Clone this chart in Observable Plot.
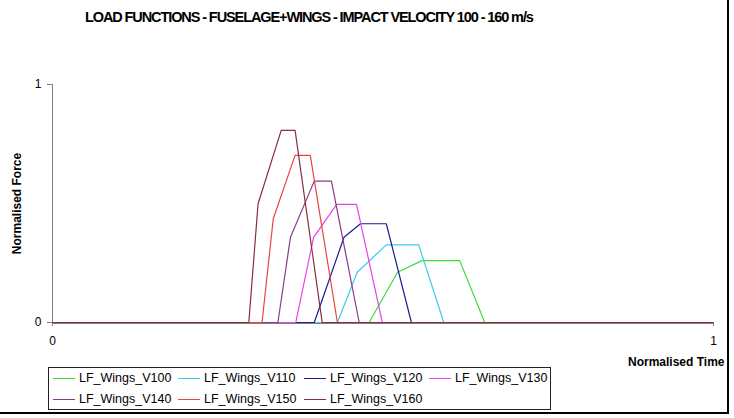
<!DOCTYPE html>
<html>
<head>
<meta charset="utf-8">
<script src="https://cdn.jsdelivr.net/npm/d3@7"></script>
<script src="https://cdn.jsdelivr.net/npm/@observablehq/plot@0.6"></script>
<style>
  body { margin: 0; background: #fff; }
  #chart { position: relative; width: 734px; height: 418px; overflow: hidden; font-family: "Liberation Sans", Arial, sans-serif; }
  #chart svg { position: absolute; left: 0; top: 0; }
  .title { position: absolute; left: 85px; top: 9px; font-weight: bold; font-size: 14.5px; letter-spacing: -1.1px; white-space: nowrap; color: #000; }
  .frame { position: absolute; left: 0; top: -4px; width: 727px; height: 416px; border-right: 2px solid #000; border-bottom: 2px solid #000; pointer-events: none; }
  .legend { position: absolute; left: 48px; top: 367px; width: 503px; height: 43px; border: 1px solid #222; box-sizing: border-box; font-size: 12.5px; }
  .legend .item { position: absolute; display: flex; align-items: center; white-space: nowrap; }
  .legend .swatch { width: 22px; height: 0; border-top: 1.5px solid; margin-right: 4px; }
</style>
</head>
<body>
<div id="chart"></div>
<script>
// Load functions, fuselage + wings, one series per impact velocity
const seriesNames = ["LF_Wings_V100", "LF_Wings_V110", "LF_Wings_V120", "LF_Wings_V130",
                     "LF_Wings_V140", "LF_Wings_V150", "LF_Wings_V160"];
const seriesColors = ["#3ddc3d", "#3ccbee", "#1c1c96", "#e843e8", "#8c3a8c", "#e84444", "#8a2d3d"];

const timeV100 = [0, 0.479, 0.522, 0.559, 0.616, 0.654, 1];
const forceV100 = [0, 0, 0.211, 0.260, 0.260, 0, 0];
const timeV110 = [0, 0.431, 0.461, 0.505, 0.554, 0.592, 1];
const forceV110 = [0, 0, 0.211, 0.326, 0.326, 0, 0];
const timeV120 = [0, 0.396, 0.441, 0.466, 0.505, 0.543, 1];
const forceV120 = [0, 0, 0.358, 0.415, 0.415, 0, 0];
const timeV130 = [0, 0.368, 0.395, 0.430, 0.460, 0.499, 1];
const forceV130 = [0, 0, 0.358, 0.496, 0.496, 0, 0];
const timeV140 = [0, 0.341, 0.360, 0.396, 0.422, 0.464, 1];
const forceV140 = [0, 0, 0.358, 0.594, 0.594, 0, 0];
const timeV150 = [0, 0.317, 0.334, 0.367, 0.390, 0.431, 1];
const forceV150 = [0, 0, 0.436, 0.702, 0.702, 0, 0];
const timeV160 = [0, 0.297, 0.311, 0.346, 0.367, 0.408, 1];
const forceV160 = [0, 0, 0.499, 0.807, 0.807, 0, 0];

const xTicks = [0, 1];
const yTicks = [0, 1];

const times = [timeV100, timeV110, timeV120, timeV130, timeV140, timeV150, timeV160];
const forces = [forceV100, forceV110, forceV120, forceV130, forceV140, forceV150, forceV160];

const rows = seriesNames.flatMap((name, i) =>
  times[i].map((t, j) => ({series: name, time: t, force: forces[i][j]}))
);

const plot = Plot.plot({
  width: 734,
  height: 418,
  marginLeft: 52,
  marginRight: 21,
  marginTop: 84,
  marginBottom: 96,
  style: {fontFamily: "'Liberation Sans', Arial, sans-serif", fontSize: "12px", color: "#000", background: "transparent"},
  x: {domain: [0, 1], ticks: xTicks, tickSize: 4, tickPadding: 10, label: null, tickFormat: d3.format("d")},
  y: {domain: [0, 1], ticks: yTicks, tickSize: 5, tickPadding: 6, label: null, tickFormat: d3.format("d")},
  color: {domain: seriesNames, range: seriesColors},
  marks: [
    Plot.axisX({ticks: xTicks, tickSize: 4, tickPadding: 10, stroke: "#808080", strokeOpacity: 1, fill: "#000", label: null, tickFormat: d3.format("d")}),
    Plot.axisY({ticks: yTicks, tickSize: 5, tickPadding: 6, stroke: "#808080", strokeOpacity: 1, fill: "#000", label: null, tickFormat: d3.format("d")}),
    Plot.ruleX([0], {stroke: "#808080", strokeWidth: 1}),
    Plot.ruleY([0], {stroke: "#808080", strokeWidth: 1, dy: 1}),
    Plot.line(rows, {x: "time", y: "force", z: "series", stroke: "series", strokeWidth: 1.2}),
    Plot.text(["Normalised Force"], {frameAnchor: "left", dx: -35, rotate: -90, textAnchor: "middle", fontWeight: "bold", fontSize: 12}),
    Plot.text(["Normalised Time"], {frameAnchor: "bottom-right", dx: 11, dy: 43, textAnchor: "end", fontWeight: "bold", fontSize: 12})
  ]
});

const chart = document.getElementById("chart");
chart.appendChild(plot);

const title = document.createElement("div");
title.className = "title";
title.textContent = "LOAD FUNCTIONS - FUSELAGE+WINGS - IMPACT VELOCITY 100 - 160 m/s";
chart.appendChild(title);

// Legend box below the plot: four entries per row
const legend = document.createElement("div");
legend.className = "legend";
const colLeft = [4, 129, 255, 380];
seriesNames.forEach((name, i) => {
  const item = document.createElement("div");
  item.className = "item";
  item.style.left = colLeft[i % 4] + "px";
  item.style.top = (i < 4 ? 2 : 23) + "px";
  item.style.height = "16px";
  const sw = document.createElement("span");
  sw.className = "swatch";
  sw.style.borderTopColor = seriesColors[i];
  const label = document.createElement("span");
  label.textContent = name;
  item.appendChild(sw);
  item.appendChild(label);
  legend.appendChild(item);
});
chart.appendChild(legend);

const frame = document.createElement("div");
frame.className = "frame";
chart.appendChild(frame);
</script>
</body>
</html>
